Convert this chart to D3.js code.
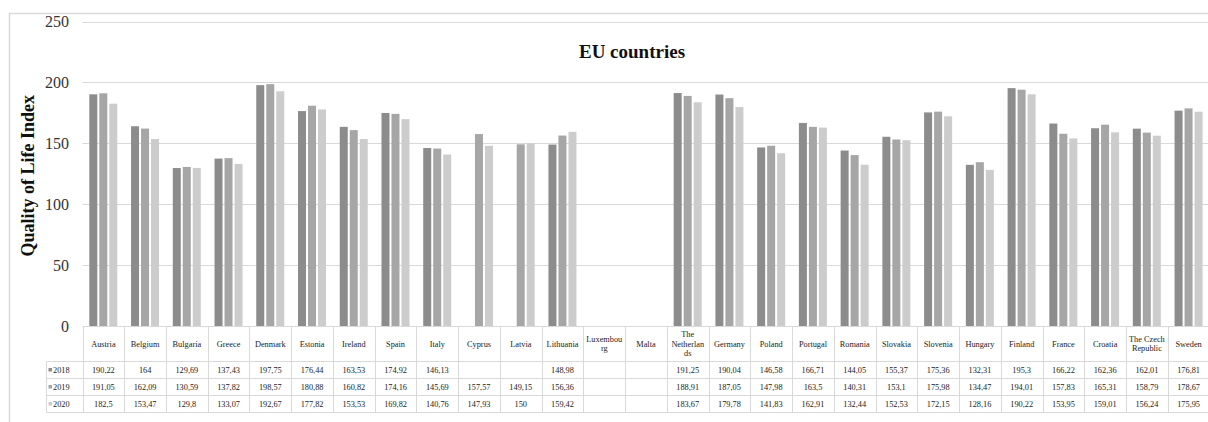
<!DOCTYPE html>
<html>
<head>
<meta charset="utf-8">
<script src="https://cdn.jsdelivr.net/npm/d3@7"></script>
<style>
  html, body { margin: 0; padding: 0; background: #fff; }
  svg { display: block; }
</style>
</head>
<body>
<svg id="chart" width="1208" height="422"></svg>
<script>
// Countries shown along the category axis (labels may wrap onto several lines)
const countries = [
  "Austria", "Belgium", "Bulgaria", "Greece", "Denmark", "Estonia", "Ireland",
  "Spain", "Italy", "Cyprus", "Latvia", "Lithuania", "Luxembourg", "Malta",
  "The Netherlands", "Germany", "Poland", "Portugal", "Romania", "Slovakia",
  "Slovenia", "Hungary", "Finland", "France", "Croatia", "The Czech Republic", "Sweden"
];
// Header text per country, split into lines as they appear in the data table
const countryLines = [
  ["Austria"], ["Belgium"], ["Bulgaria"], ["Greece"], ["Denmark"], ["Estonia"], ["Ireland"],
  ["Spain"], ["Italy"], ["Cyprus"], ["Latvia"], ["Lithuania"], ["Luxembou", "rg"], ["Malta"],
  ["The", "Netherlan", "ds"], ["Germany"], ["Poland"], ["Portugal"], ["Romania"], ["Slovakia"],
  ["Slovenia"], ["Hungary"], ["Finland"], ["France"], ["Croatia"], ["The Czech", "Republic"], ["Sweden"]
];

const years = ["2018", "2019", "2020"];

// Quality of Life Index by year (null = no value)
const values2018 = [190.22, 164, 129.69, 137.43, 197.75, 176.44, 163.53, 174.92, 146.13, null, null, 148.98, null, null,
  191.25, 190.04, 146.58, 166.71, 144.05, 155.37, 175.36, 132.31, 195.3, 166.22, 162.36, 162.01, 176.81];
const values2019 = [191.05, 162.09, 130.59, 137.82, 198.57, 180.88, 160.82, 174.16, 145.69, 157.57, 149.15, 156.36, null, null,
  188.91, 187.05, 147.98, 163.5, 140.31, 153.1, 175.98, 134.47, 194.01, 157.83, 165.31, 158.79, 178.67];
const values2020 = [182.5, 153.47, 129.8, 133.07, 192.67, 177.82, 153.53, 169.82, 140.76, 147.93, 150, 159.42, null, null,
  183.67, 179.78, 141.83, 162.91, 132.44, 152.53, 172.15, 128.16, 190.22, 153.95, 159.01, 156.24, 175.95];

const yTicks = [0, 50, 100, 150, 200, 250];
const seriesColors = ["#8c8c8c", "#a6a6a6", "#cccccc"];

const series = [values2018, values2019, values2020];

const svg = d3.select("#chart");
const serif = "'Liberation Serif', 'Times New Roman', serif";

// outer chart frame
svg.append("rect")
  .attr("x", 9.5).attr("y", 13.5)
  .attr("width", 1240).attr("height", 440)
  .attr("fill", "none").attr("stroke", "#d9d9d9").attr("stroke-width", 1.5);

const plotLeft = 82.5, plotRight = 1209.5;
const plotTop = 21.5, plotBottom = 326;

const x0 = d3.scaleBand().domain(countries).range([plotLeft, plotRight]).paddingInner(0).paddingOuter(0);
const x1 = d3.scaleBand().domain(years).range([6.8, 34.8]).paddingInner(0.2).paddingOuter(0);
const y = d3.scaleLinear().domain([0, 250]).range([plotBottom, plotTop]);

// horizontal grid lines
svg.append("g").selectAll("line")
  .data(yTicks.filter(t => t > 0))
  .join("line")
  .attr("x1", plotLeft).attr("x2", plotRight)
  .attr("y1", d => Math.round(y(d)) + 0.5).attr("y2", d => Math.round(y(d)) + 0.5)
  .attr("stroke", "#d9d9d9").attr("stroke-width", 1.2);

// y tick labels
svg.append("g").selectAll("text")
  .data(yTicks)
  .join("text")
  .attr("x", 69).attr("y", d => y(d))
  .attr("dy", "0.35em")
  .attr("text-anchor", "end")
  .attr("font-family", serif).attr("font-size", 16).attr("fill", "#333")
  .text(d => d);

// bars
const groups = svg.append("g").selectAll("g")
  .data(countries)
  .join("g")
  .attr("transform", d => `translate(${x0(d)},0)`);

groups.selectAll("rect")
  .data((c, i) => years.map((yr, k) => ({ yr, k, v: series[k][i] })).filter(d => d.v != null))
  .join("rect")
  .attr("x", d => x1(d.yr))
  .attr("width", x1.bandwidth())
  .attr("y", d => y(d.v))
  .attr("height", d => y(0) - y(d.v))
  .attr("fill", d => seriesColors[d.k]);

// title and axis title
svg.append("text")
  .attr("x", 632).attr("y", 58)
  .attr("text-anchor", "middle")
  .attr("font-family", serif).attr("font-weight", "bold").attr("font-size", 19).attr("fill", "#111")
  .text("EU countries");

svg.append("text")
  .attr("transform", `translate(34,${(plotTop + plotBottom) / 2 + 2}) rotate(-90)`)
  .attr("text-anchor", "middle")
  .attr("font-family", serif).attr("font-weight", "bold").attr("font-size", 18).attr("fill", "#111")
  .text("Quality of Life Index");

// data table under the axis
const headerTop = 326, headerBottom = 361.5;
const rowEdges = [361.5, 378.5, 395.5, 412.5];
const labelLeft = 46.5;
const gridColor = "#d9d9d9";
const table = svg.append("g");

// horizontal table lines
table.append("line")
  .attr("x1", plotLeft).attr("x2", plotRight)
  .attr("y1", headerTop + 0.5).attr("y2", headerTop + 0.5)
  .attr("stroke", gridColor);
table.selectAll("line.row")
  .data(rowEdges)
  .join("line")
  .attr("class", "row")
  .attr("x1", labelLeft).attr("x2", plotRight)
  .attr("y1", d => d).attr("y2", d => d)
  .attr("stroke", gridColor);

// vertical table lines
const colEdges = countries.map(c => x0(c)).concat([plotRight]);
table.selectAll("line.col")
  .data(colEdges)
  .join("line")
  .attr("class", "col")
  .attr("x1", d => Math.round(d) + 0.5).attr("x2", d => Math.round(d) + 0.5)
  .attr("y1", headerTop).attr("y2", rowEdges[3])
  .attr("stroke", gridColor);
table.append("line")
  .attr("x1", labelLeft).attr("x2", labelLeft)
  .attr("y1", rowEdges[0]).attr("y2", rowEdges[3])
  .attr("stroke", gridColor);

// country header cells
const headerMid = (headerTop + headerBottom) / 2;
countries.forEach((c, i) => {
  const lines = countryLines[i];
  const lh = 9.5;
  const t = table.append("text")
    .attr("x", x0(c) + x0.bandwidth() / 2)
    .attr("text-anchor", "middle")
    .attr("font-family", serif).attr("font-size", 8.3).attr("fill", "#222");
  lines.forEach((ln, j) => {
    t.append("tspan")
      .attr("x", x0(c) + x0.bandwidth() / 2)
      .attr("y", headerMid + (j - (lines.length - 1) / 2) * lh)
      .attr("dy", "0.35em")
      .text(ln);
  });
});

// series rows: legend key + values
const fmt = v => String(v).replace(".", ",");
years.forEach((yr, k) => {
  const mid = (rowEdges[k] + rowEdges[k + 1]) / 2;
  table.append("rect")
    .attr("x", 48.5).attr("y", mid - 2)
    .attr("width", 3.5).attr("height", 3.5)
    .attr("fill", seriesColors[k]);
  table.append("text")
    .attr("x", 53).attr("y", mid).attr("dy", "0.35em")
    .attr("font-family", serif).attr("font-size", 8.3).attr("fill", "#222")
    .text(yr);
  table.append("g").selectAll("text")
    .data(countries.map((c, i) => ({ c, v: series[k][i] })).filter(d => d.v != null))
    .join("text")
    .attr("x", d => x0(d.c) + x0.bandwidth() / 2)
    .attr("y", mid).attr("dy", "0.35em")
    .attr("text-anchor", "middle")
    .attr("font-family", serif).attr("font-size", 8.3).attr("fill", "#222")
    .text(d => fmt(d.v));
});
</script>
</body>
</html>
